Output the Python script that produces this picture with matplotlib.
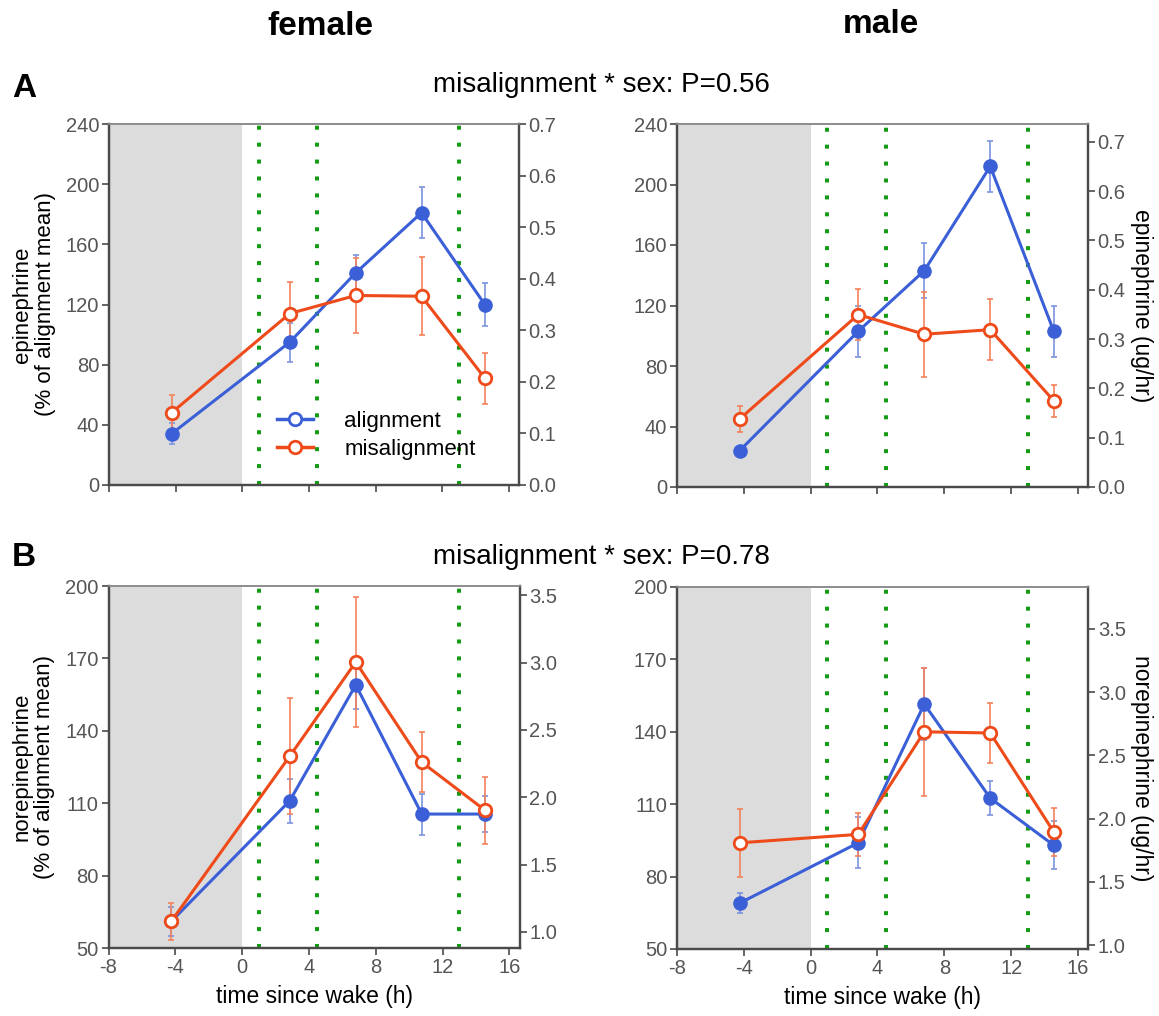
import numpy as np
import matplotlib
matplotlib.use("Agg")
import matplotlib.pyplot as plt
from matplotlib.lines import Line2D

plt.rcParams['font.family'] = ['Liberation Sans', 'DejaVu Sans']
plt.rcParams['axes.unicode_minus'] = False

# time since wake (h) of the five samples
hours = [-4.25, 2.85, 6.8, 10.75, 14.55]
meals = [1, 4.5, 13]

# epinephrine, % of alignment mean
epi_f_align = [34, 95, 141, 181, 120]
epi_f_align_err = [7, 13, 12, 17, 14]
epi_f_mis = [48, 114, 126, 125.5, 71]
epi_f_mis_err = [12, 21, 25, 26, 17]
epi_m_align = [24, 103, 143, 212, 103]
epi_m_align_err = [2, 17, 18, 17, 17]
epi_m_mis = [45, 114, 101, 104, 57]
epi_m_mis_err = [8.5, 17, 28, 20, 10.5]

# norepinephrine, % of alignment mean
ne_f_align = [61, 111, 159, 105.5, 105.5]
ne_f_align_err = [6, 9, 10, 8.5, 7.5]
ne_f_mis = [61, 129.5, 168.5, 127, 107]
ne_f_mis_err = [7.5, 24, 27, 12.5, 14]
ne_m_align = [69, 94, 151.5, 112.5, 93]
ne_m_align_err = [4, 10.5, 15, 7, 10]
ne_m_mis = [94, 97.5, 140, 139.5, 98.5]
ne_m_mis_err = [14, 9, 26.5, 12.5, 10]

epi_ticks = [0, 40, 80, 120, 160, 200, 240]
epi_rticks = [0.0, 0.1, 0.2, 0.3, 0.4, 0.5, 0.6, 0.7]
ne_ticks = [50, 80, 110, 140, 170, 200]
ne_rticks = [1.0, 1.5, 2.0, 2.5, 3.0, 3.5]
x_ticks = [-8, -4, 0, 4, 8, 12, 16]

BLUE = '#3b5fd6'
BLUE_ERR = '#7b93e0'
RED = '#ee4a1a'
RED_ERR = '#f2825c'
GREEN = '#169b16'
SPINE = '#4a4a4a'
TICKLAB = '#555555'

W, H = 1159, 1016
fig = plt.figure(figsize=(W / 100, H / 100), dpi=100)


def px_box(left, top, right, bottom):
    return [left / W, 1 - bottom / H, (right - left) / W, (bottom - top) / H]


def style(ax):
    for side in ['left', 'right', 'bottom']:
        ax.spines[side].set_color(SPINE)
        ax.spines[side].set_linewidth(1.6)
    ax.spines['top'].set_color('#8c8c8c')
    ax.spines['top'].set_linewidth(1.2)
    ax.tick_params(direction='out', length=5, width=1.2, color=SPINE,
                   labelcolor=TICKLAB, labelsize=14.5, pad=2)


def panel(box, align, align_err, mis, mis_err, ylim, yticks, rlim, rticks,
          ylabel=None, rlabel=None, xlabels=False):
    ax = fig.add_axes(box)
    ax.axvspan(-8, 0, color='#dcdcdc', lw=0, zorder=0)
    for m in meals:
        ax.axvline(m, color=GREEN, lw=2.9, ls=(0, (1, 3.2)), zorder=1)
    ax.errorbar(hours, align, yerr=align_err, fmt='none', ecolor=BLUE_ERR,
                elinewidth=1.2, capsize=2.5, capthick=1.2, zorder=2)
    ax.errorbar(hours, mis, yerr=mis_err, fmt='none', ecolor=RED_ERR,
                elinewidth=1.2, capsize=2.5, capthick=1.2, zorder=2)
    ax.plot(hours, align, '-o', color=BLUE, lw=2.2, ms=9.5, zorder=3)
    ax.plot(hours, mis, '-o', color=RED, lw=2.2, ms=9, mfc='white',
            mec=RED, mew=2, zorder=4)
    ax.set_xlim(-8, 16.6)
    ax.set_xticks(x_ticks)
    ax.set_ylim(*ylim)
    ax.set_yticks(yticks)
    if xlabels:
        ax.set_xlabel('time since wake (h)', fontsize=16.5, labelpad=6)
    else:
        ax.set_xticklabels([])
    if ylabel:
        ax.set_ylabel(ylabel, fontsize=16, linespacing=1.1)
        ax.yaxis.set_label_coords(-0.13, 0.5)
    style(ax)
    ax2 = ax.twinx()
    ax2.set_ylim(*rlim)
    ax2.set_yticks(rticks)
    ax2.set_yticklabels(['%.1f' % t for t in rticks])
    style(ax2)
    if rlabel:
        ax2.set_ylabel(rlabel, fontsize=16.5, rotation=270, labelpad=20)
    return ax


ax_a = panel(px_box(109, 124, 519, 485), epi_f_align, epi_f_align_err,
             epi_f_mis, epi_f_mis_err, (0, 240), epi_ticks, (0, 0.7), epi_rticks,
             ylabel='epinephrine\n(% of alignment mean)')
panel(px_box(677, 124, 1088, 487), epi_m_align, epi_m_align_err,
      epi_m_mis, epi_m_mis_err, (0, 240), epi_ticks, (0, 0.736), epi_rticks,
      rlabel='epinephrine (ug/hr)')
panel(px_box(108.5, 586, 519.5, 948), ne_f_align, ne_f_align_err,
      ne_f_mis, ne_f_mis_err, (50, 200), ne_ticks, (0.88, 3.57), ne_rticks,
      ylabel='norepinephrine\n(% of alignment mean)', xlabels=True)
panel(px_box(677, 587, 1088, 949), ne_m_align, ne_m_align_err,
      ne_m_mis, ne_m_mis_err, (50, 200), ne_ticks, (0.97, 3.83), ne_rticks,
      rlabel='norepinephrine (ug/hr)', xlabels=True)

handles = [Line2D([], [], color=BLUE, lw=2.5, marker='o', ms=9, mfc='white', mec=BLUE, mew=2),
           Line2D([], [], color=RED, lw=2.5, marker='o', ms=9, mfc='white', mec=RED, mew=2)]
ax_a.legend(handles, ['alignment', 'misalignment'], loc='upper left',
            bbox_to_anchor=(0.362, 0.26), frameon=False, fontsize=16,
            handlelength=1.6, handletextpad=1.4, labelspacing=0.3)

fig.text(320 / W, 1 - 35 / H, 'female', fontsize=24, fontweight='bold', ha='center', va='baseline')
fig.text(881 / W, 1 - 33 / H, 'male', fontsize=24, fontweight='bold', ha='center', va='baseline')
fig.text(12 / W, 1 - 97 / H, 'A', fontsize=24, fontweight='bold', va='baseline')
fig.text(12 / W, 1 - 566 / H, 'B', fontsize=24, fontweight='bold', va='baseline')
fig.text(601 / W, 1 - 92 / H, 'misalignment * sex: P=0.56', fontsize=20, ha='center', va='baseline')
fig.text(601 / W, 1 - 564 / H, 'misalignment * sex: P=0.78', fontsize=20, ha='center', va='baseline')

plt.savefig('out.png', dpi=100)
